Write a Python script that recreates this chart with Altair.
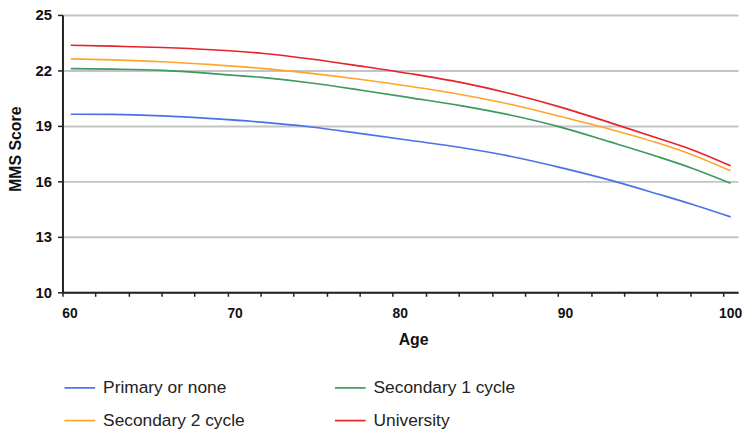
import altair as alt
import pandas as pd

ages = [60.0, 62.55, 65.55, 68.55, 71.55, 74.55, 77.6, 80.6, 83.6, 86.6, 89.6, 92.6, 95.6, 97.65, 99.95]
primary = [19.63, 19.62, 19.54, 19.39, 19.20, 18.94, 18.58, 18.21, 17.83, 17.36, 16.76, 16.08, 15.30, 14.75, 14.08]
secondary1 = [22.10, 22.07, 22.00, 21.83, 21.62, 21.32, 20.93, 20.52, 20.10, 19.59, 18.95, 18.15, 17.32, 16.70, 15.90]
secondary2 = [22.63, 22.57, 22.47, 22.31, 22.11, 21.84, 21.51, 21.13, 20.70, 20.17, 19.52, 18.83, 18.06, 17.43, 16.57]
university = [23.36, 23.31, 23.24, 23.12, 22.93, 22.62, 22.23, 21.82, 21.35, 20.75, 20.03, 19.19, 18.32, 17.70, 16.84]

series = ["Primary or none", "Secondary 1 cycle", "Secondary 2 cycle", "University"]
colors = ["#4a72e6", "#3c9a5f", "#ffa52a", "#e6232b"]
legend_order = ["Primary or none", "Secondary 2 cycle", "Secondary 1 cycle", "University"]

# tick marks sit between categories (every 2 years, offset by half a year)
x_ticks = [59.5 + 2 * k for k in range(21)]
y_ticks = [10, 13, 16, 19, 22, 25]

rows = []
for name, vals in zip(series, [primary, secondary1, secondary2, university]):
    for a, v in zip(ages, vals):
        rows.append({"Age": a, "MMS": v, "Education": name})
df = pd.DataFrame(rows)

chart = alt.Chart(df).mark_line(strokeWidth=1.7, interpolate="monotone").encode(
    x=alt.X("Age:Q",
            scale=alt.Scale(domain=[59.5, 100.4], nice=False, zero=False),
            axis=alt.Axis(values=x_ticks,
                          labelExpr="(datum.value - 59.5) % 10 == 0 ? format(datum.value + 0.5, 'd') : ''",
                          labelOffset=7, labelFlush=False,
                          grid=False, title="Age", domainColor="#222", domainWidth=2,
                          tickColor="#222", tickWidth=1.5, tickSize=4,
                          labelFont="Liberation Sans", labelFontWeight="bold", labelFontSize=14,
                          labelColor="#111", labelPadding=10,
                          titleFont="Liberation Sans", titleFontWeight="bold", titleFontSize=16,
                          titleColor="#111", titleX=354, titleY=48, titleAlign="center",
                          titleBaseline="middle")),
    y=alt.Y("MMS:Q",
            scale=alt.Scale(domain=[10, 25], nice=False, zero=False),
            axis=alt.Axis(values=y_ticks, grid=True, gridColor="#c4c4c4", gridWidth=2,
                          title="MMS Score", domainColor="#222", domainWidth=2,
                          tickColor="#222", tickWidth=1.5, tickSize=5,
                          labelFont="Liberation Sans", labelFontWeight="bold", labelFontSize=15,
                          labelColor="#111", labelPadding=6,
                          titleFont="Liberation Sans", titleFontWeight="bold", titleFontSize=16,
                          titleColor="#111", titleX=-47, titleY=135, titleAlign="center",
                          titleBaseline="middle", titleAngle=270)),
    color=alt.Color("Education:N",
                    scale=alt.Scale(domain=series, range=colors),
                    legend=alt.Legend(title=None, orient="none", legendX=1, legendY=360,
                                      values=legend_order,
                                      columns=2, columnPadding=87, rowPadding=8,
                                      symbolType="stroke", symbolSize=961, symbolStrokeWidth=1.7,
                                      labelFont="Liberation Sans", labelFontSize=17.5,
                                      labelColor="#222", labelOffset=7)),
).properties(
    width=682, height=280,
    padding={"left": 55, "top": 5, "right": 5, "bottom": 140},
    autosize="none",
).configure_view(stroke=None)

chart.save("out.html", embed_options={"renderer": "svg", "actions": False})
